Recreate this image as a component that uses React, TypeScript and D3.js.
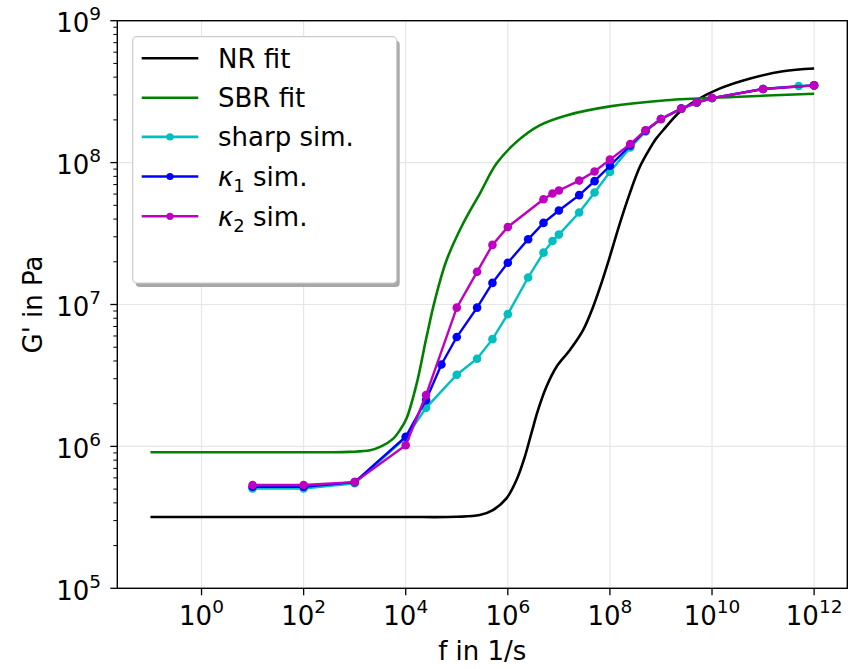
import React from "react";
import * as d3 from "d3";

// ---------- data ----------
const nrF = [1e-1, 1e1, 1e3, 1e4, 1e5, 2.8e5, 5.1e5, 9.4e5, 1.48e6, 2.15e6, 2.9e6, 3.9e6, 5.7e6, 9e6, 1.63e7, 2.98e7, 4.67e7, 6.8e7, 9.9e7, 1.56e8, 2.44e8, 3.84e8, 6.0e8, 8.0e8, 1.1e9, 2.32e9, 4.9e9, 1.4e10, 5.4e10, 2.45e11, 1e12];
const nrG = [3.18e5, 3.18e5, 3.18e5, 3.18e5, 3.19e5, 3.28e5, 3.56e5, 4.3e5, 5.8e5, 8.45e5, 1.24e6, 1.8e6, 2.63e6, 3.64e6, 4.76e6, 6.6e6, 9.6e6, 1.41e7, 2.16e7, 3.72e7, 6.05e7, 9.3e7, 1.25e8, 1.47e8, 1.69e8, 2.27e8, 2.75e8, 3.32e8, 3.9e8, 4.4e8, 4.6e8];

const sbrF = [1e-1, 1e1, 1e2, 3e2, 8e2, 2e3, 3.3e3, 5.7e3, 7.9e3, 1.04e4, 1.63e4, 2.56e4, 3.72e4, 6.3e4, 1.33e5, 2.83e5, 6.0e5, 1.48e6, 4.2e6, 1.4e7, 1e8, 1.28e9, 2.6e10, 1e12];
const sbrG = [9.1e5, 9.1e5, 9.1e5, 9.1e5, 9.15e5, 9.38e5, 1.0e6, 1.135e6, 1.32e6, 1.58e6, 2.75e6, 5.92e6, 1.07e7, 2.05e7, 3.72e7, 6.05e7, 9.84e7, 1.4e8, 1.83e8, 2.15e8, 2.49e8, 2.75e8, 2.9e8, 3.06e8];

const sharpF = [10, 100, 1e3, 1e4, 2.5e4, 1e5, 2.5e5, 5e5, 1e6, 2.5e6, 5e6, 7.5e6, 1e7, 2.5e7, 5e7, 1e8, 2.5e8, 5e8, 1e9, 2.5e9, 5e9, 1e10, 1e11, 5e11, 1e12];
const sharpG = [5.05e5, 5.05e5, 5.5e5, 1.15e6, 1.87e6, 3.2e6, 4.15e6, 5.7e6, 8.55e6, 1.55e7, 2.32e7, 2.8e7, 3.11e7, 4.45e7, 6.15e7, 8.6e7, 1.28e8, 1.66e8, 2.03e8, 2.4e8, 2.65e8, 2.85e8, 3.3e8, 3.47e8, 3.5e8];

const k1F = [10, 100, 1e3, 1e4, 2.5e4, 5e4, 1e5, 2.5e5, 5e5, 1e6, 2.5e6, 5e6, 1e7, 2.5e7, 5e7, 1e8, 2.5e8, 5e8, 1e9, 2.5e9, 5e9, 1e10, 1e11, 1e12];
const k1G = [5.2e5, 5.2e5, 5.6e5, 1.17e6, 2.12e6, 3.78e6, 5.9e6, 9.5e6, 1.42e7, 1.97e7, 2.88e7, 3.76e7, 4.6e7, 5.9e7, 7.4e7, 9.5e7, 1.32e8, 1.68e8, 2.03e8, 2.4e8, 2.65e8, 2.85e8, 3.3e8, 3.5e8];

const k2F = [10, 100, 1e3, 1e4, 2.5e4, 1e5, 2.5e5, 5e5, 1e6, 5e6, 7.5e6, 1e7, 2.5e7, 5e7, 1e8, 2.5e8, 5e8, 1e9, 2.5e9, 5e9, 1e10, 1e11, 1e12];
const k2G = [5.35e5, 5.35e5, 5.6e5, 1.02e6, 2.3e6, 9.5e6, 1.7e7, 2.63e7, 3.52e7, 5.52e7, 6.05e7, 6.36e7, 7.47e7, 8.65e7, 1.05e8, 1.35e8, 1.69e8, 2.03e8, 2.4e8, 2.65e8, 2.85e8, 3.3e8, 3.5e8];

const xTickExps = [0, 2, 4, 6, 8, 10, 12];
const yTickExps = [5, 6, 7, 8, 9];

const FONT = "DejaVu Sans, Verdana, sans-serif";

export default function App() {
  const W = 849, H = 669;
  const L = 117.3, R = 847.3, T = 20.7, B = 588.3;
  const x = d3.scaleLog().domain([Math.pow(10, -1.65), Math.pow(10, 12.65)]).range([L, R]);
  const y = d3.scaleLog().domain([1e5, 1e9]).range([B, T]);

  const zip = (a: number[], b: number[]) => a.map((v, i) => [v, b[i]] as [number, number]);
  const smooth = d3.line<[number, number]>().x(d => x(d[0])).y(d => y(d[1])).curve(d3.curveCatmullRom.alpha(0.5));
  const straight = d3.line<[number, number]>().x(d => x(d[0])).y(d => y(d[1]));

  const fits = [
    { f: nrF, g: nrG, color: "#000000" },
    { f: sbrF, g: sbrG, color: "#008000" },
  ];
  const sims = [
    { f: sharpF, g: sharpG, color: "#00bfbf" },
    { f: k1F, g: k1G, color: "#0000ff" },
    { f: k2F, g: k2G, color: "#bf00bf" },
  ];

  const minor: number[] = [];
  for (let e = 5; e < 9; e++) for (let k = 2; k <= 9; k++) minor.push(k * Math.pow(10, e));

  const legX = 132.7, legY = 36.7, legW = 264, legH = 246.3;
  const rowY = [58.3, 97.7, 136.9, 176.5, 216.3];
  const legendItems = [
    { color: "#000000", marker: false, label: <tspan>NR fit</tspan> },
    { color: "#008000", marker: false, label: <tspan>SBR fit</tspan> },
    { color: "#00bfbf", marker: true, label: <tspan>sharp sim.</tspan> },
    { color: "#0000ff", marker: true, label: <><tspan fontStyle="italic">κ</tspan><tspan fontSize={18} dy={6}>1</tspan><tspan dy={-6}> sim.</tspan></> },
    { color: "#bf00bf", marker: true, label: <><tspan fontStyle="italic">κ</tspan><tspan fontSize={18} dy={6}>2</tspan><tspan dy={-6}> sim.</tspan></> },
  ];

  return (
    <svg width={W} height={H} style={{ position: "absolute", left: 0, top: 0, background: "#fff" }} fontFamily={FONT}>
      <rect x={0} y={0} width={W} height={H} fill="#fff" />
      {/* grid */}
      {xTickExps.map(e => (
        <line key={"gx" + e} x1={x(Math.pow(10, e))} x2={x(Math.pow(10, e))} y1={T} y2={B} stroke="#e6e6e6" strokeWidth={1.2} />
      ))}
      {yTickExps.map(e => (
        <line key={"gy" + e} x1={L} x2={R} y1={y(Math.pow(10, e))} y2={y(Math.pow(10, e))} stroke="#e6e6e6" strokeWidth={1.2} />
      ))}
      {/* fit curves */}
      {fits.map((s, i) => (
        <path key={"fit" + i} d={smooth(zip(s.f, s.g)) || ""} fill="none" stroke={s.color} strokeWidth={2.6} />
      ))}
      {/* simulation series */}
      {sims.map((s, i) => (
        <g key={"sim" + i}>
          <path d={straight(zip(s.f, s.g)) || ""} fill="none" stroke={s.color} strokeWidth={2.4} />
          {zip(s.f, s.g).map((d, j) => (
            <circle key={j} cx={x(d[0])} cy={y(d[1])} r={4.3} fill={s.color} />
          ))}
        </g>
      ))}
      {/* spines */}
      <rect x={L} y={T} width={R - L} height={B - T} fill="none" stroke="#000" strokeWidth={1.4} />
      {/* x ticks */}
      {xTickExps.map(e => {
        const px = x(Math.pow(10, e));
        return (
          <g key={"xt" + e}>
            <line x1={px} x2={px} y1={B} y2={B + 7} stroke="#000" strokeWidth={1.3} />
            <text x={px} y={625} textAnchor="middle" fontSize={26} fill="#000">
              10<tspan fontSize={18.5} dy={-12}>{e}</tspan>
            </text>
          </g>
        );
      })}
      {/* y ticks */}
      {yTickExps.map(e => {
        const py = y(Math.pow(10, e));
        return (
          <g key={"yt" + e}>
            <line x1={L - 7} x2={L} y1={py} y2={py} stroke="#000" strokeWidth={1.3} />
            <text x={101} y={py + 11.5} textAnchor="end" fontSize={26} fill="#000">
              10<tspan fontSize={18.5} dy={-12}>{e}</tspan>
            </text>
          </g>
        );
      })}
      {minor.map((v, i) => (
        <line key={"mn" + i} x1={L - 4} x2={L} y1={y(v)} y2={y(v)} stroke="#000" strokeWidth={1} />
      ))}
      {/* axis labels */}
      <text x={(L + R) / 2} y={660} textAnchor="middle" fontSize={26} fill="#000">f in 1/s</text>
      <text transform={`translate(42, ${(T + B) / 2}) rotate(-90)`} textAnchor="middle" fontSize={26} fill="#000">G' in Pa</text>
      {/* legend */}
      <rect x={legX + 3} y={legY + 4} width={legW} height={legH} rx={4} fill="#999" opacity={0.85} />
      <rect x={legX} y={legY} width={legW} height={legH} rx={4} fill="#fff" stroke="#cccccc" strokeWidth={1.2} />
      {legendItems.map((it, i) => (
        <g key={"lg" + i}>
          <line x1={141.7} x2={198.3} y1={rowY[i]} y2={rowY[i]} stroke={it.color} strokeWidth={2.6} />
          {it.marker && <circle cx={170} cy={rowY[i]} r={3.6} fill={it.color} />}
          <text x={218} y={rowY[i] + 9.5} fontSize={26} fill="#000">{it.label}</text>
        </g>
      ))}
    </svg>
  );
}
